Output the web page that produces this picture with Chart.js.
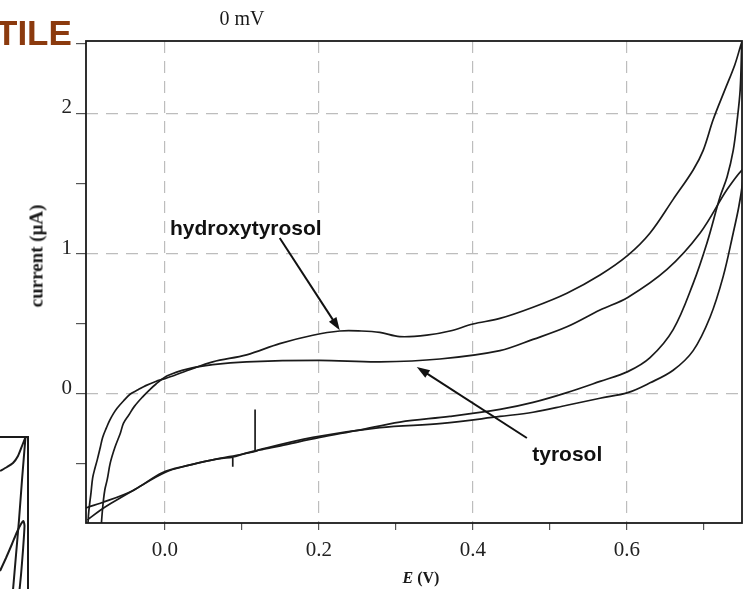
<!DOCTYPE html>
<html>
<head>
<meta charset="utf-8">
<script src="https://cdn.jsdelivr.net/npm/chart.js@4.4.1/dist/chart.umd.min.js"></script>
<style>
  body { margin: 0; background: #fff; }
  #wrap { position: relative; width: 743px; height: 589px; overflow: hidden; }
  canvas { position: absolute; }
  .txt { position: absolute; white-space: nowrap; color: #1a1a1a; }
  #tile { left: -4px; top: 15px; font: bold 35px "Liberation Sans", Arial, sans-serif; line-height: 35px; color: #8b3a0e; }
  #title { left: 242px; top: 8px; transform: translateX(-50%); font: 20px "Liberation Serif", serif; line-height: 20px; }
  #xtitle { left: 421px; top: 570px; transform: translateX(-50%); font: bold 16px "Liberation Serif", serif; line-height: 16px; }
  #ytitle { left: 36px; top: 256px; transform: translate(-50%, -50%) rotate(-90deg); font: bold 19px "Liberation Serif", serif; line-height: 19px; }
</style>
</head>
<body>
<div id="wrap">
  <canvas id="cv" width="743" height="589" style="left:0;top:0"></canvas>
  <canvas id="inset" width="30" height="155" style="left:0;top:435px"></canvas>
  <div class="txt" id="tile">TILE</div>
  <div class="txt" id="title">0 mV</div>
  <div class="txt" id="xtitle"><i>E</i> (V)</div>
  <div class="txt" id="ytitle">current (μA)</div>
</div>
<script>
// Cyclic voltammograms, potential in V, current in µA

// hydroxytyrosol: forward scan then reverse scan
const hydroxyE = [
  -0.100, -0.099, -0.096, -0.094, -0.091, -0.088, -0.084, -0.081, -0.076, -0.072,
  -0.067, -0.062, -0.054, -0.045, -0.035, -0.025, -0.012, 0.000,
  0.030, 0.062, 0.106, 0.149, 0.192, 0.227, 0.255, 0.279, 0.305, 0.340,
  0.370, 0.400, 0.435, 0.478, 0.522, 0.565, 0.601, 0.630, 0.660, 0.686,
  0.699, 0.712, 0.727, 0.740, 0.749,
  0.749, 0.747, 0.743, 0.738, 0.730, 0.721, 0.704, 0.686, 0.660, 0.630,
  0.601, 0.565, 0.522, 0.478, 0.435, 0.370, 0.305, 0.250, 0.201, 0.150,
  0.123, 0.117, 0.117, 0.117, 0.117, 0.117, 0.100, 0.062, 0.030, 0.000,
  -0.042, -0.070, -0.084, -0.101
];
const hydroxyI = [
  -0.92, -0.84, -0.70, -0.60, -0.53, -0.47, -0.38, -0.31, -0.24, -0.19,
  -0.14, -0.10, -0.05, 0.00, 0.03, 0.06, 0.09, 0.11,
  0.17, 0.23, 0.28, 0.36, 0.42, 0.45, 0.45, 0.44, 0.41, 0.42,
  0.45, 0.50, 0.54, 0.62, 0.72, 0.85, 0.99, 1.15, 1.39, 1.60,
  1.74, 1.96, 2.17, 2.35, 2.51,
  2.49, 2.17, 1.95, 1.74, 1.55, 1.41, 1.08, 0.79, 0.46, 0.26,
  0.16, 0.09, 0.01, -0.06, -0.11, -0.16, -0.20, -0.26, -0.31, -0.37,
  -0.40, -0.41, -0.41, -0.11, -0.41, -0.41, -0.43, -0.47, -0.51, -0.56,
  -0.69, -0.78, -0.83, -0.90
];

// tyrosol: forward scan then reverse scan
const tyrosolE = [
  -0.083, -0.082, -0.080, -0.078, -0.075, -0.071, -0.065, -0.058, -0.054, -0.047,
  -0.040, -0.029, -0.020, -0.012, 0.003, 0.030, 0.062, 0.106, 0.200, 0.279,
  0.357, 0.435, 0.478, 0.522, 0.565, 0.601, 0.652, 0.695, 0.730, 0.751,
  0.751, 0.750, 0.745, 0.738, 0.725, 0.708, 0.686, 0.660, 0.630, 0.601,
  0.565, 0.522, 0.478, 0.435, 0.360, 0.279, 0.192, 0.114, 0.088, 0.088,
  0.088, 0.088, 0.088, 0.062, 0.030, -0.003, -0.042, -0.084, -0.101, -0.115
];
const tyrosolI = [
  -0.96, -0.88, -0.76, -0.68, -0.61, -0.49, -0.38, -0.28, -0.21, -0.15,
  -0.09, -0.02, 0.03, 0.07, 0.13, 0.18, 0.21, 0.23, 0.24, 0.23,
  0.25, 0.31, 0.39, 0.48, 0.60, 0.69, 0.89, 1.15, 1.46, 1.61,
  1.58, 1.50, 1.33, 1.15, 0.84, 0.55, 0.31, 0.17, 0.08, 0.01,
  -0.03, -0.08, -0.13, -0.16, -0.21, -0.24, -0.31, -0.41, -0.45, -0.45,
  -0.52, -0.45, -0.45, -0.47, -0.51, -0.56, -0.69, -0.78, -0.81, -0.85
];

const xTickValues = [0, 0.1, 0.2, 0.3, 0.4, 0.5, 0.6, 0.7];
const xTickLabels = ['0.0', '', '0.2', '', '0.4', '', '0.6', ''];
const yTickValues = [-0.5, 0, 0.5, 1, 1.5, 2, 2.5];
const yTickLabels = ['', '0', '', '1', '', '2', ''];

// piece of the neighbouring panel, cut off at the left edge
const insetA = [[0, 119], [7, 123], [13, 127], [18, 134], [22, 144], [25.5, 153]];
const insetB = [[25.5, 153], [22, 110], [19, 70], [16, 35], [13, 0]];
const insetC = [[0, 19], [6, 32], [12, 46], [17, 58], [21, 66], [23.5, 69], [24.5, 64], [23, 40], [21, 15], [19.5, 0]];

const INK = "#1a1a1a";

function pairs(xs, ys) {
  return xs.map((x, i) => ({ x: x, y: ys[i] }));
}

function isMajor(labels, values, v) {
  const i = values.findIndex((t) => Math.abs(t - v) < 1e-6);
  return i >= 0 && labels[i] !== '';
}

// frame, arrows and compound labels
const notes = [
  { text: 'hydroxytyrosol', tx: 0.0065, ty: 1.136, from: [0.149, 1.114], to: [0.227, 0.455] },
  { text: 'tyrosol', tx: 0.477, ty: -0.479, from: [0.470, -0.314], to: [0.327, 0.193] },
];

function drawArrow(ctx, x1, y1, x2, y2) {
  const ang = Math.atan2(y2 - y1, x2 - x1);
  const len = 13, half = 4.5;
  ctx.beginPath();
  ctx.moveTo(x1, y1);
  ctx.lineTo(x2 - Math.cos(ang) * len * 0.8, y2 - Math.sin(ang) * len * 0.8);
  ctx.stroke();
  ctx.beginPath();
  ctx.moveTo(x2, y2);
  ctx.lineTo(x2 - Math.cos(ang) * len + Math.sin(ang) * half, y2 - Math.sin(ang) * len - Math.cos(ang) * half);
  ctx.lineTo(x2 - Math.cos(ang) * len - Math.sin(ang) * half, y2 - Math.sin(ang) * len + Math.cos(ang) * half);
  ctx.closePath();
  ctx.fill();
}

const decorPlugin = {
  id: 'decor',
  afterDatasetsDraw(chart) {
    const { ctx, chartArea: a, scales: { x, y } } = chart;
    ctx.save();
    ctx.strokeStyle = INK;
    ctx.lineWidth = 1.8;
    ctx.strokeRect(a.left, a.top, a.right - a.left, a.bottom - a.top);

    ctx.fillStyle = "#111";
    ctx.strokeStyle = "#111";
    ctx.lineWidth = 2;
    ctx.font = 'bold 21px "Liberation Sans", Arial, sans-serif';
    ctx.textBaseline = 'alphabetic';
    notes.forEach((n) => {
      ctx.fillText(n.text, x.getPixelForValue(n.tx), y.getPixelForValue(n.ty));
      drawArrow(ctx,
        x.getPixelForValue(n.from[0]), y.getPixelForValue(n.from[1]),
        x.getPixelForValue(n.to[0]), y.getPixelForValue(n.to[1]));
    });
    ctx.restore();
  },
};

const lineStyle = {
  showLine: true,
  borderColor: INK,
  borderWidth: 1.7,
  pointRadius: 0,
  tension: 0.35,
  fill: false,
};

new Chart(document.getElementById('cv'), {
  type: 'scatter',
  data: {
    datasets: [
      { label: 'hydroxytyrosol', data: pairs(hydroxyE, hydroxyI), ...lineStyle },
      { label: 'tyrosol', data: pairs(tyrosolE, tyrosolI), ...lineStyle },
    ],
  },
  options: {
    responsive: false,
    animation: false,
    devicePixelRatio: 1,
    layout: { padding: { top: 41, right: 1, left: 0, bottom: 0 } },
    plugins: { legend: { display: false }, tooltip: { enabled: false } },
    scales: {
      x: {
        type: 'linear',
        min: -0.1026,
        max: 0.7494,
        afterFit: (s) => { s.height = 66; },
        afterBuildTicks: (s) => { s.ticks = xTickValues.map((v) => ({ value: v })); },
        border: { display: false, dash: [12, 8] },
        grid: {
          color: (c) => (c.tick && isMajor(xTickLabels, xTickValues, c.tick.value) ? '#bdbdbd' : 'rgba(0,0,0,0)'),
          lineWidth: 1.2,
          tickColor: '#555',
          tickLength: 7,
        },
        ticks: {
          autoSkip: false,
          maxRotation: 0,
          padding: 8,
          color: '#222',
          font: { family: '"Liberation Serif", serif', size: 21 },
          callback: (v, i) => xTickLabels[i],
        },
      },
      y: {
        type: 'linear',
        min: -0.921,
        max: 2.521,
        afterFit: (s) => { s.width = 86; },
        afterBuildTicks: (s) => { s.ticks = yTickValues.map((v) => ({ value: v })); },
        border: { display: false, dash: [12, 8] },
        grid: {
          color: (c) => (c.tick && isMajor(yTickLabels, yTickValues, c.tick.value) ? '#bdbdbd' : 'rgba(0,0,0,0)'),
          lineWidth: 1.2,
          tickColor: '#555',
          tickLength: 10,
        },
        ticks: {
          autoSkip: false,
          padding: 4,
          labelOffset: -6,
          color: '#222',
          font: { family: '"Liberation Serif", serif', size: 21 },
          callback: (v, i) => yTickLabels[i],
        },
      },
    },
  },
  plugins: [decorPlugin],
});

// the cut-off neighbour panel in the lower left corner
const insetFrame = {
  id: 'insetFrame',
  afterDatasetsDraw(chart) {
    const { ctx, scales: { x, y } } = chart;
    ctx.save();
    ctx.strokeStyle = INK;
    ctx.lineWidth = 2;
    ctx.beginPath();
    ctx.moveTo(x.getPixelForValue(0), y.getPixelForValue(153));
    ctx.lineTo(x.getPixelForValue(28), y.getPixelForValue(153));
    ctx.lineTo(x.getPixelForValue(28), y.getPixelForValue(0));
    ctx.stroke();
    ctx.restore();
  },
};

const insetStyle = { showLine: true, borderColor: INK, borderWidth: 2, pointRadius: 0, tension: 0.2 };

new Chart(document.getElementById('inset'), {
  type: 'scatter',
  data: {
    datasets: [insetA, insetB, insetC].map((pts) => ({
      data: pts.map((p) => ({ x: p[0], y: p[1] })),
      ...insetStyle,
    })),
  },
  options: {
    responsive: false,
    animation: false,
    devicePixelRatio: 1,
    layout: { padding: 0 },
    plugins: { legend: { display: false }, tooltip: { enabled: false } },
    scales: {
      x: { type: 'linear', min: 0, max: 30, display: false },
      y: { type: 'linear', min: 0, max: 155, display: false },
    },
  },
  plugins: [insetFrame],
});
</script>
</body>
</html>
